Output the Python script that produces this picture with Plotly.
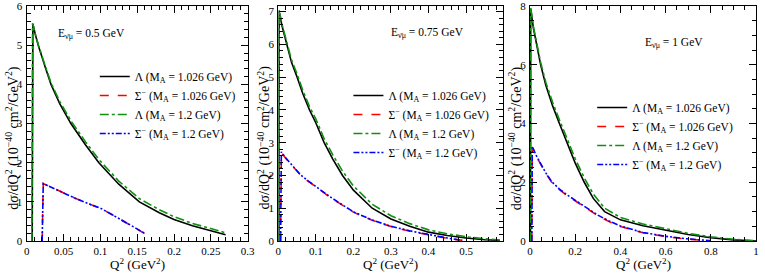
import plotly.graph_objects as go

# ---------------- data ----------------
# Panel 1: E = 0.5 GeV
p1_lam_q = [0.0075, 0.0084, 0.012, 0.016, 0.025, 0.033, 0.045, 0.06, 0.08, 0.098, 0.125, 0.153, 0.18, 0.2, 0.225, 0.25, 0.27]
p1_lam1026 = [0, 5.54, 5.25, 4.98, 4.45, 4.0, 3.5, 3.0, 2.45, 2.0, 1.45, 1.0, 0.72, 0.55, 0.39, 0.27, 0.16]
p1_lam12_q = [0.007, 0.0080, 0.012, 0.016, 0.025, 0.033, 0.045, 0.06, 0.08, 0.098, 0.125, 0.153, 0.18, 0.2, 0.225, 0.25, 0.27]
p1_lam12 = [0, 5.56, 5.27, 5.0, 4.48, 4.04, 3.56, 3.07, 2.53, 2.08, 1.53, 1.08, 0.80, 0.62, 0.45, 0.32, 0.21]
p1_sig_q = [0.021, 0.0225, 0.03, 0.04, 0.05, 0.065, 0.08, 0.1, 0.12, 0.14, 0.16]
p1_sig1026 = [0, 1.47, 1.40, 1.31, 1.22, 1.10, 0.98, 0.84, 0.63, 0.41, 0.19]
p1_sig12 = [0, 1.47, 1.40, 1.31, 1.22, 1.10, 0.98, 0.84, 0.63, 0.42, 0.20]

# Panel 2: E = 0.75 GeV
p2_lam_q = [0.0015, 0.002, 0.01, 0.022, 0.035, 0.05, 0.065, 0.083, 0.1, 0.122, 0.145, 0.171, 0.2, 0.25, 0.3, 0.35, 0.4, 0.45, 0.5, 0.55, 0.59]
p2_lam1026 = [0, 7.0, 6.55, 6.0, 5.45, 5.0, 4.5, 4.0, 3.6, 3.0, 2.5, 2.0, 1.55, 1.0, 0.67, 0.45, 0.27, 0.17, 0.09, 0.04, 0.02]
p2_lam12 = [0, 7.05, 6.6, 6.06, 5.53, 5.09, 4.6, 4.1, 3.72, 3.12, 2.63, 2.13, 1.68, 1.12, 0.77, 0.53, 0.34, 0.22, 0.13, 0.07, 0.03]
p2_sig_q = [0.006, 0.008, 0.02, 0.04, 0.06, 0.08, 0.1, 0.13, 0.16, 0.2, 0.25, 0.3, 0.35, 0.4, 0.45, 0.49]
p2_sig1026 = [0, 2.7, 2.52, 2.25, 2.0, 1.82, 1.65, 1.4, 1.17, 0.88, 0.63, 0.44, 0.3, 0.18, 0.08, 0.02]
p2_sig12 = [0, 2.72, 2.53, 2.26, 2.01, 1.83, 1.66, 1.41, 1.18, 0.89, 0.64, 0.45, 0.31, 0.19, 0.09, 0.02]

# Panel 3: E = 1 GeV
p3_lam_q = [0.002, 0.003, 0.015, 0.03, 0.047, 0.07, 0.1, 0.13, 0.16, 0.2, 0.24, 0.28, 0.33, 0.4, 0.5, 0.6, 0.7, 0.8, 0.9, 1.0]
p3_lam1026 = [0, 7.9, 7.25, 6.6, 6.0, 5.3, 4.6, 4.0, 3.4, 2.65, 2.0, 1.45, 1.0, 0.72, 0.52, 0.36, 0.22, 0.11, 0.04, 0.0]
p3_lam12 = [0, 7.95, 7.3, 6.67, 6.08, 5.4, 4.72, 4.13, 3.53, 2.8, 2.15, 1.6, 1.12, 0.8, 0.58, 0.41, 0.26, 0.14, 0.06, 0.01]
p3_sig_q = [0.008, 0.01, 0.03, 0.05, 0.07, 0.096, 0.13, 0.16, 0.2, 0.25, 0.3, 0.35, 0.4, 0.5, 0.6, 0.7, 0.8]
p3_sig1026 = [0, 3.2, 2.85, 2.55, 2.3, 2.0, 1.75, 1.57, 1.37, 1.12, 0.86, 0.66, 0.49, 0.28, 0.15, 0.06, 0.01]
p3_sig12 = [0, 3.22, 2.87, 2.57, 2.32, 2.02, 1.77, 1.59, 1.39, 1.14, 0.88, 0.68, 0.51, 0.29, 0.16, 0.07, 0.01]

energies = ["0.5", "0.75", "1"]
legend_names = [
    "Λ (M<sub>A</sub> = 1.026 GeV)",
    "Σ<sup>−</sup> (M<sub>A</sub> = 1.026 GeV)",
    "Λ (M<sub>A</sub> = 1.2 GeV)",
    "Σ<sup>−</sup> (M<sub>A</sub> = 1.2 GeV)",
]

# ---------------- figure ----------------
FONT = "Liberation Serif, Times New Roman, Times, serif"
W, H = 765, 277
mt, mb = 6, 36
doms = [(24, 248), (279, 507), (534, 763)]
xranges = [[0, 0.3001], [0, 0.5995], [0, 1.0001]]
yranges = [[0, 6.001], [0, 7.17], [0, 8.001]]
xdt = [0.05, 0.1, 0.2]
xminor = [0.01, 0.02, 0.05]
ydt = [1, 1, 2]
yminor = [0.2, 0.2, 0.5]

styles = [
    dict(color="black", width=1.6, dash="solid"),
    dict(color="red", width=1.6, dash="dash"),
    dict(color="#109010", width=1.6, dash="dashdot"),
    dict(color="blue", width=1.6, dash="6px,2px,2px,2px,2px,2px"),
]

panels = [
    [(p1_lam_q, p1_lam1026), (p1_sig_q, p1_sig1026), (p1_lam12_q, p1_lam12), (p1_sig_q, p1_sig12)],
    [(p2_lam_q, p2_lam1026), (p2_sig_q, p2_sig1026), (p2_lam_q, p2_lam12), (p2_sig_q, p2_sig12)],
    [(p3_lam_q, p3_lam1026), (p3_sig_q, p3_sig1026), (p3_lam_q, p3_lam12), (p3_sig_q, p3_sig12)],
]

fig = go.Figure()
pw = W
ph = H - mt - mb

def px(x):
    return x / pw

def py(y):
    return (H - mb - y) / ph

legend_pos = [(93, 62), (350, 81), (597, 93)]
annot_pos = [(54, 34), (391, 33), (648, 43)]

layout = dict(
    width=W, height=H,
    margin=dict(l=0, r=0, t=mt, b=mb),
    paper_bgcolor="white", plot_bgcolor="white",
    font=dict(family=FONT, color="black", size=11),
    annotations=[],
)

for i in range(3):
    sfx = "" if i == 0 else str(i + 1)
    xa = "x" + sfx
    ya = "y" + sfx
    leg = "legend" + sfx
    for j, (q, v) in enumerate(panels[i]):
        fig.add_trace(go.Scatter(
            x=q, y=v, mode="lines", name=legend_names[j],
            line=styles[j], xaxis=xa, yaxis=ya, legend=leg,
        ))
    axcommon = dict(
        showgrid=False, zeroline=False, showline=True, linecolor="black",
        linewidth=1.3, mirror="allticks", ticks="inside", ticklen=7,
        tickcolor="black", tickwidth=1.1,
        tickfont=dict(family=FONT, size=11, color="black"),
        ticklabeloverflow="allow",
    )
    layout["xaxis" + sfx] = dict(
        domain=[px(doms[i][0]), px(doms[i][1])], range=xranges[i],
        anchor=ya, dtick=xdt[i], tick0=0,
        minor=dict(dtick=xminor[i], ticks="inside", ticklen=4, tickcolor="black", tickwidth=1),
        **axcommon,
    )
    layout["yaxis" + sfx] = dict(
        domain=[0, 1], range=yranges[i], anchor=xa, dtick=ydt[i], tick0=0,
        minor=dict(dtick=yminor[i], ticks="inside", ticklen=4, tickcolor="black", tickwidth=1),
        ticklabelstandoff=1,
        **axcommon,
    )
    lx, ly = legend_pos[i]
    layout[leg] = dict(
        x=px(lx), y=py(ly), xanchor="left", yanchor="top",
        xref="paper", yref="paper",
        bgcolor="rgba(0,0,0,0)", borderwidth=0,
        font=dict(family=FONT, size=11.5, color="black"),
        itemwidth=30, tracegroupgap=0,
    )
    ax, ay = annot_pos[i]
    layout["annotations"].append(dict(
        text="E<sub>ν̄μ</sub> = " + energies[i] + " GeV",
        x=px(ax), y=py(ay), xref="paper", yref="paper",
        xanchor="left", yanchor="middle", showarrow=False,
        font=dict(family=FONT, size=11.5, color="black"),
    ))
    layout["annotations"].append(dict(
        text="dσ/dQ<sup>2</sup> (10<sup>−40</sup> cm<sup>2</sup>/GeV<sup>2</sup>)",
        x=px(doms[i][0] - 14), y=py(138), xref="paper", yref="paper",
        xanchor="center", yanchor="middle", showarrow=False, textangle=-90,
        font=dict(family=FONT, size=14, color="black"),
    ))
    layout["annotations"].append(dict(
        text="Q<sup>2</sup> (GeV<sup>2</sup>)",
        x=px((doms[i][0] + doms[i][1]) / 2), y=py(264), xref="paper", yref="paper",
        xanchor="center", yanchor="middle", showarrow=False,
        font=dict(family=FONT, size=13, color="black"),
    ))

fig.update_layout(**layout)
fig.write_html(
    "out.html",
    config={"displayModeBar": False},
    post_script="document.body.style.margin='0';document.body.style.padding='0';",
)
